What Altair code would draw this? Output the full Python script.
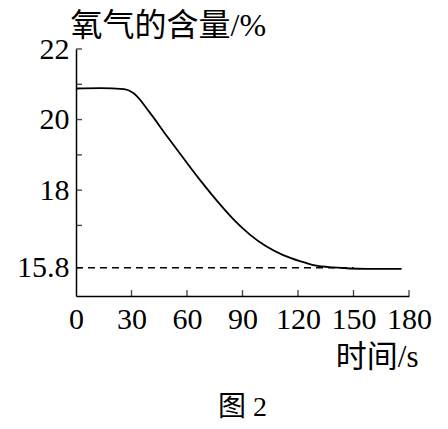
import altair as alt
import pandas as pd

# ---- data ----
time_s = [0, 13, 26, 31, 40, 49, 58, 67, 76, 85, 94, 103, 112, 121, 130, 139, 148, 157, 176]
oxygen = [20.88, 20.89, 20.86, 20.75, 20.19, 19.54, 18.91, 18.29, 17.71, 17.18, 16.74,
          16.40, 16.16, 15.99, 15.86, 15.81, 15.78, 15.77, 15.77]
ref_level = 15.8
ref_start = 0
ref_end = 150
y_tick_vals = [22, 21, 20, 19, 18, 17, 15.8]
y_label_vals = [22, 20, 18, 15.8]
x_tick_vals = [30, 60, 90, 120, 150, 180]
x_label_vals = [0, 30, 60, 90, 120, 150, 180]
x_domain = [0, 180]
y_domain = [15, 22]
x_title = "时间/s"
y_title = "氧气的含量/%"
caption = "图 2"

FONT = "'Liberation Serif', 'DejaVu Serif', 'Noto Sans CJK SC', serif"

curve_df = pd.DataFrame({"t": time_s, "v": oxygen})
ref_df = pd.DataFrame({"t": [ref_start], "t2": [ref_end], "v": [ref_level]})
ytick_df = pd.DataFrame({"t": [x_domain[0]] * len(y_tick_vals), "v": y_tick_vals})
xtick_df = pd.DataFrame({"t": x_tick_vals, "v": [y_domain[0]] * len(x_tick_vals)})

xs = alt.Scale(domain=x_domain, nice=False, zero=False)
ys = alt.Scale(domain=y_domain, nice=False, zero=False)

curve = alt.Chart(curve_df).mark_line(color="black", strokeWidth=1.8, interpolate="monotone").encode(
    x=alt.X("t:Q", scale=xs, title=x_title, axis=alt.Axis(
        values=x_label_vals, ticks=False, grid=False, domainColor="black", domainWidth=1.5,
        labelFont=FONT, labelFontSize=30, labelColor="black", labelPadding=8,
        labelFlush=False, labelOverlap=False, labelExpr="toString(datum.value)",
        titleFont=FONT, titleFontSize=31, titleFontWeight="normal",
        titleColor="black", titleAlign="right", titleBaseline="alphabetic",
        titleX=342, titleY=70)),
    y=alt.Y("v:Q", scale=ys, title=y_title, axis=alt.Axis(
        values=y_label_vals, ticks=False, grid=False, domainColor="black", domainWidth=1.5,
        labelFont=FONT, labelFontSize=30, labelColor="black", labelPadding=7,
        labelOverlap=False, labelExpr="toString(datum.value)",
        titleFont=FONT, titleFontSize=32, titleFontWeight="normal",
        titleColor="black", titleAngle=0, titleAlign="left", titleBaseline="alphabetic",
        titleX=-6, titleY=-14)),
)

ref = alt.Chart(ref_df).mark_rule(color="black", strokeWidth=1.4, strokeDash=[7, 5]).encode(
    x=alt.X("t:Q", scale=xs, title=x_title),
    x2="t2:Q",
    y=alt.Y("v:Q", scale=ys, title=y_title),
)

yticks = alt.Chart(ytick_df).mark_tick(orient="horizontal", size=6, thickness=1.4,
                                       xOffset=3, color="black").encode(
    x=alt.X("t:Q", scale=xs, title=x_title),
    y=alt.Y("v:Q", scale=ys, title=y_title),
)

xticks = alt.Chart(xtick_df).mark_tick(orient="vertical", size=6, thickness=1.4,
                                       yOffset=-3, color="black").encode(
    x=alt.X("t:Q", scale=xs, title=x_title),
    y=alt.Y("v:Q", scale=ys, title=y_title),
)

chart = alt.layer(curve, ref, yticks, xticks).properties(
    width=333, height=247,
    autosize=alt.AutoSizeParams(type="none"),
    padding={"left": 68, "top": 41, "right": 25, "bottom": 125},
    background="white",
    title=alt.TitleParams(caption, orient="bottom", anchor="middle", font=FONT,
                          fontSize=28, fontWeight="normal", color="black", offset=22),
).configure_view(stroke=None)

chart.save("out.html", embed_options={"renderer": "svg", "actions": False})
